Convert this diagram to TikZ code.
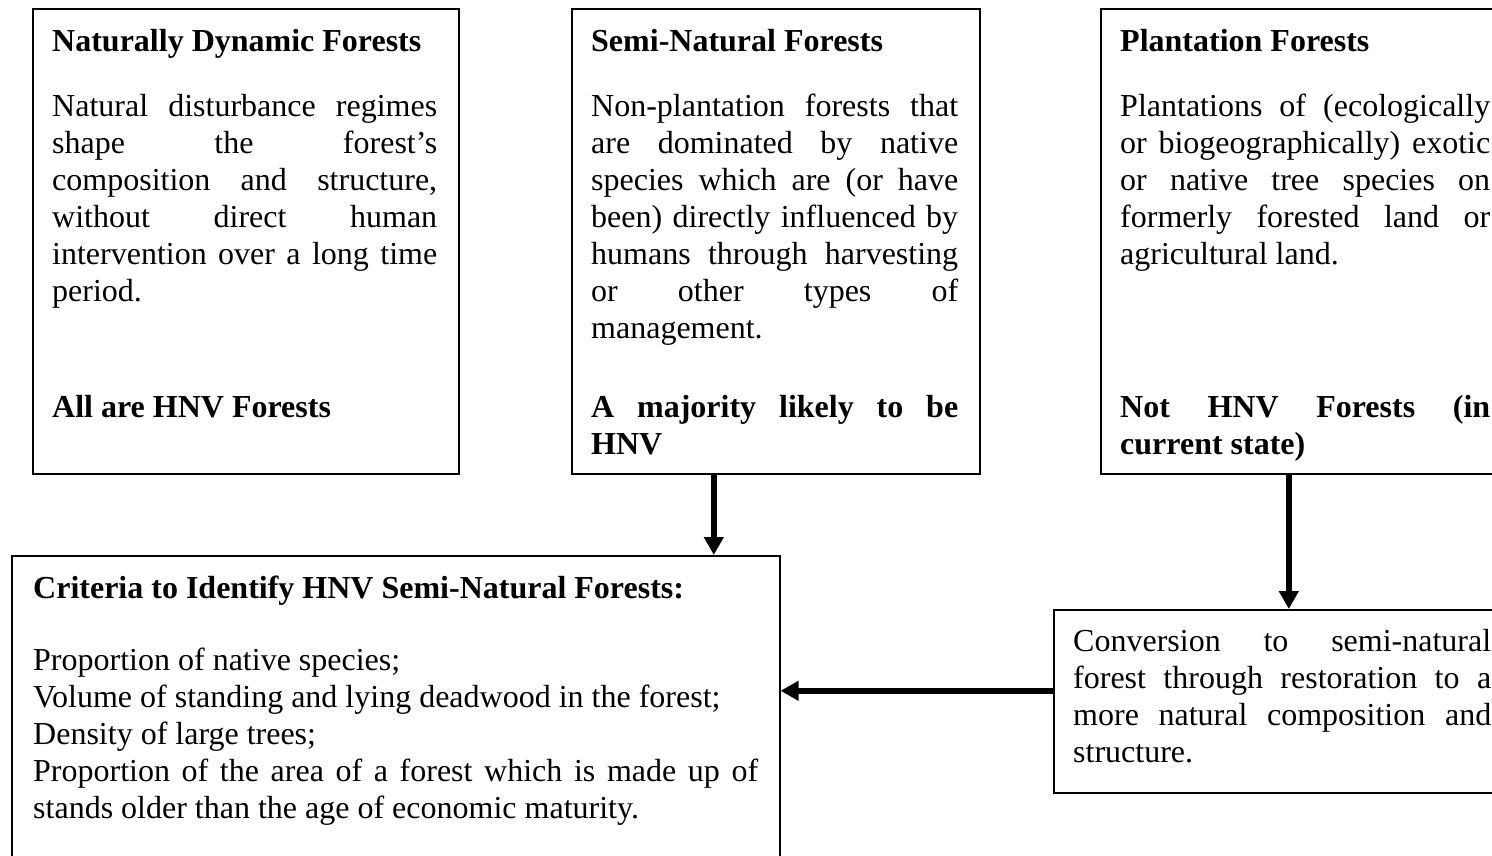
\documentclass[tikz,border=0pt]{standalone}
\usepackage{fontspec}
\setmainfont{Liberation Serif}
\usetikzlibrary{arrows.meta}
\setlength{\parindent}{0pt}
\hyphenpenalty=10000
\exhyphenpenalty=10000
\tolerance=9999
\emergencystretch=3em

\begin{document}
\begin{tikzpicture}[x=1pt, y=-1pt,
        box/.style={draw, line width=1.6pt, anchor=north west, inner sep=0pt},
        txt/.style={anchor=north west, inner sep=0pt, align=justify, font=\fontsize{32}{37}\selectfont},
        flow/.style={line width=6pt, -{Triangle[length=18pt, width=19pt]}}]
        \useasboundingbox (0,0) rectangle (1492,855);

        % the three kinds of forest
        \node[box, minimum width=426pt, minimum height=465pt] (dynamic) at (32,8) {};
        \node[box, minimum width=408pt, minimum height=465pt] (semi) at (571,8) {};
        \node[box, minimum width=411pt, minimum height=465pt] (plant) at (1100,8) {};

        \node[txt, text width=385pt] (dynamictxt) at (52,29) {\textbf{Naturally Dynamic Forests}\par\vspace{28pt}
            Natural disturbance regimes\linebreak shape the forest's\linebreak composition and structure,\linebreak
            without direct human\linebreak intervention over a long time\linebreak period.};
        \node[txt, text width=385pt] (dynamicfoot) at (52,395) {\textbf{All are HNV Forests}};

        \node[txt, text width=367pt] (semitxt) at (591,29) {\textbf{Semi-Natural Forests}\par\vspace{28pt}
            Non-plantation forests that\linebreak are dominated by native\linebreak species which are (or have\linebreak
            been) directly influenced by\linebreak humans through harvesting\linebreak or other types of\linebreak management.};
        \node[txt, text width=367pt] (semifoot) at (591,395) {\textbf{A majority likely to be HNV}};

        \node[txt, text width=370pt] (planttxt) at (1120,29) {\textbf{Plantation Forests}\par\vspace{28pt}
            Plantations of (ecologically or biogeographically) exotic or native tree species on formerly forested land or agricultural land.};
        \node[txt, text width=370pt] (plantfoot) at (1120,395) {\textbf{Not HNV Forests (in current state)}};

        % criteria and conversion
        \node[box, minimum width=768pt, minimum height=400pt] (crit) at (11,555) {};
        \node[txt, text width=725pt] (crittxt) at (33,576) {\textbf{Criteria to Identify HNV Semi-Natural Forests:}\par\vspace{35pt}
            Proportion of native species;\par
            Volume of standing and lying deadwood in the forest;\par
            Density of large trees;\par
            Proportion of the area of a forest which is made up of stands older than the age of economic maturity.};

        \node[box, minimum width=460pt, minimum height=183pt] (conv) at (1053,609) {};
        \node[txt, text width=418pt] (convtxt) at (1073,629) {Conversion to semi-natural forest through restoration to a more natural composition and structure.};

        % arrows
        \draw[flow] ([xshift=-62pt]semi.south) -- ([xshift=-62pt]semi.south |- crit.north);
        \draw[flow] ([xshift=-17.5pt]plant.south) -- ([xshift=-17.5pt]plant.south |- conv.north);
        \draw[flow] ([yshift=10.5pt]conv.west) -- ([yshift=10.5pt]conv.west -| crit.east);
\end{tikzpicture}
\end{document}
